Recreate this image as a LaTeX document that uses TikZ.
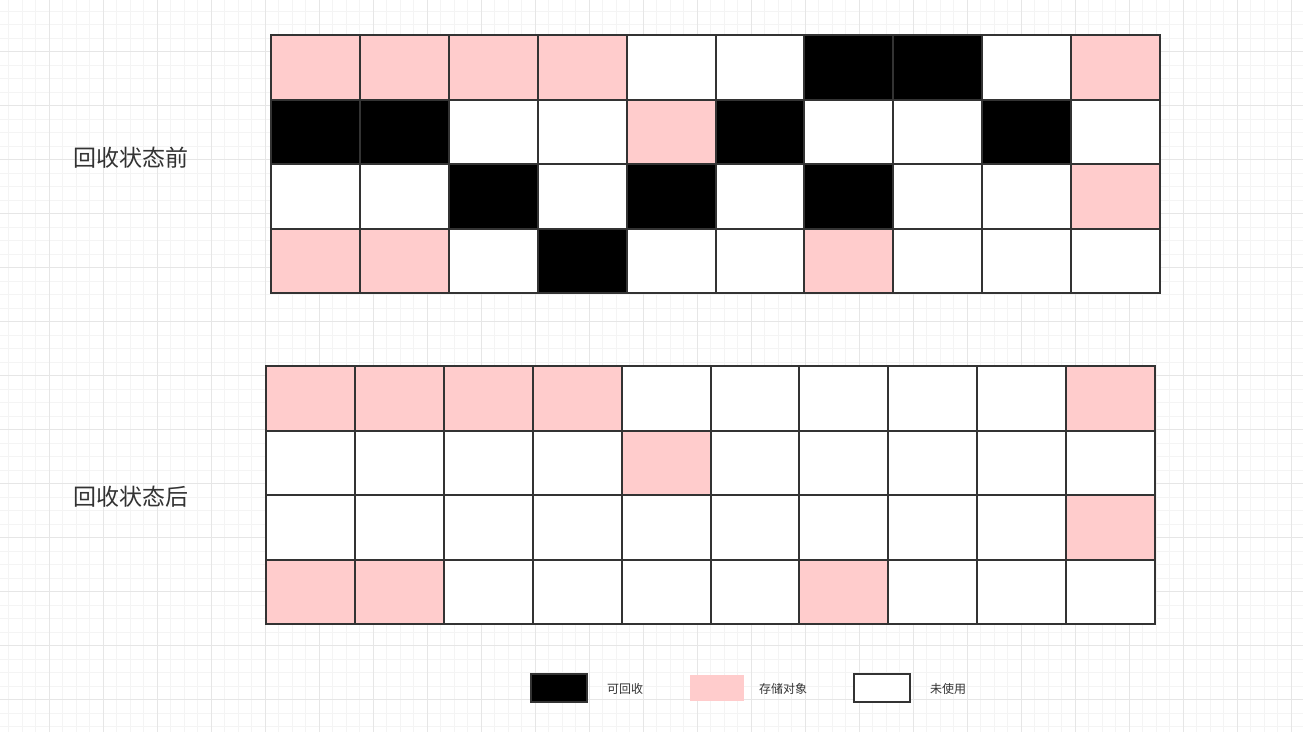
\documentclass[tikz,border=0pt]{standalone}
\usepackage{fontspec}
\newfontfamily\cjk{Noto Sans CJK SC}
\definecolor{pk}{HTML}{FFCCCC}
\definecolor{bd}{HTML}{333333}
\definecolor{txt}{HTML}{333333}
\definecolor{gmin}{HTML}{F4F4F4}
\definecolor{gmaj}{HTML}{E6E6E6}
\tikzset{
  cell/.style={draw=bd,line width=2pt,minimum width=89pt,minimum height=64.5pt,inner sep=0pt,outer sep=0pt,anchor=north west},
  P/.style={cell,fill=pk},
  B/.style={cell,fill=black},
  W/.style={cell,fill=white},
  bigtext/.style={font=\cjk\fontsize{23}{27}\selectfont,text=txt,inner sep=0pt},
  legtext/.style={font=\cjk\fontsize{12}{14}\selectfont,text=txt,inner sep=0pt},
  legbox/.style={line width=2pt,inner sep=0pt,outer sep=0pt,minimum width=56pt,minimum height=28pt}
}
\begin{document}
\begin{tikzpicture}[x=1pt,y=-1pt]
\useasboundingbox[fill=white] (0,0) rectangle (1303,732);
% background grid
\foreach \i in {0,...,96} \draw[gmin,line width=1pt] (8.8+\i*13.5,0) -- (8.8+\i*13.5,732);
\foreach \i in {0,...,53} \draw[gmin,line width=1pt] (0,11.2+\i*13.5) -- (1303,11.2+\i*13.5);
\foreach \i in {0,...,23} \draw[gmaj,line width=1pt] (49.3+\i*54,0) -- (49.3+\i*54,732);
\foreach \i in {0,...,12} \draw[gmaj,line width=1pt] (0,51.7+\i*54) -- (1303,51.7+\i*54);
% top grid
\foreach \row [count=\r] in {{P,P,P,P,W,W,B,B,W,P},{B,B,W,W,P,B,W,W,B,W},{W,W,B,W,B,W,B,W,W,P},{P,P,W,B,W,W,P,W,W,W}}
  \foreach \c [count=\k] in \row
    \node[\c] (t\r-\k) at ({271+(\k-1)*88.9},{35+(\r-1)*64.5}) {};
% bottom grid
\foreach \row [count=\r] in {{P,P,P,P,W,W,W,W,W,P},{W,W,W,W,P,W,W,W,W,W},{W,W,W,W,W,W,W,W,W,P},{P,P,W,W,W,W,P,W,W,W}}
  \foreach \c [count=\k] in \row
    \node[\c] (b\r-\k) at ({266+(\k-1)*88.9},{366+(\r-1)*64.5}) {};
% labels
\node[bigtext] (lbefore) at (131,158) {回收状态前};
\node[bigtext] (lafter) at (131,497) {回收状态后};
% legend
\node[legbox,draw=bd,fill=black] (lgB) at (558.7,687.7) {};
\node[legtext] (lgBt) at (625,689) {可回收};
\node[legbox,fill=pk,minimum width=54pt,minimum height=26pt] (lgP) at (717,687.7) {};
\node[legtext] (lgPt) at (783,689) {存储对象};
\node[legbox,draw=bd,fill=white] (lgW) at (881.7,687.7) {};
\node[legtext] (lgWt) at (948,689) {未使用};
\end{tikzpicture}
\end{document}
